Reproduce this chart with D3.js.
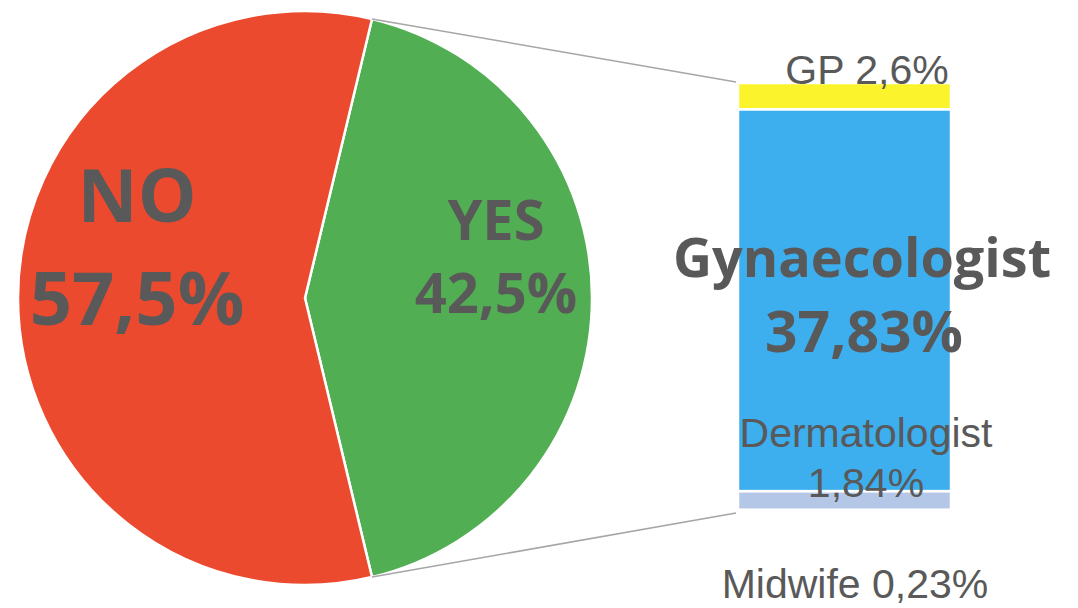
<!DOCTYPE html>
<meta charset="utf-8">
<script src="https://d3js.org/d3.v7.min.js"></script>
<style>
  body { margin: 0; background: #fff; }
</style>
<body>
<div id="chart"></div>
<script>
    // pie data
    var pieLabels = ["YES", "NO"];
    var pieValues = [42.5, 57.5];
    var pieColors = ["#52AE53", "#EC4A2F"];

    // breakdown of YES (bottom to top)
    var barLabels = ["Midwife", "Dermatologist", "Gynaecologist", "GP"];
    var barValues = [0.23, 1.84, 37.83, 2.6];
    var barColors = ["#DCE6F4", "#B4C7E7", "#3DAEEE", "#FBF32B"];

    var width = 1078, height = 608;
    var textColor = "#595959";

    var svg = d3.select("#chart")
        .append("svg")
        .attr("width", width)
        .attr("height", height);

    // pie
    var cx = 305, cy = 298, radius = 287;
    var yesShare = pieValues[0] / d3.sum(pieValues);
    var start = Math.PI / 2 - Math.PI * yesShare;

    var pie = d3.pie().sort(null).startAngle(start).endAngle(start + 2 * Math.PI);
    var arcs = pie(pieValues);
    var arc = d3.arc().innerRadius(0).outerRadius(radius);

    var g = svg.append("g").attr("transform", "translate(" + cx + "," + cy + ")");
    g.selectAll("path")
        .data(arcs)
        .enter()
        .append("path")
        .attr("d", arc)
        .style("fill", function(d, i) { return pieColors[i]; })
        .style("stroke", "#fff")
        .style("stroke-width", 2.5);

    // bar
    var total = d3.sum(barValues);
    var x0 = 738, x1 = 951;
    var y = d3.scaleLinear().domain([0, total]).range([512, 83]);
    var cum = 0;
    var segs = barValues.map(function(v, i) {
        var s = {lo: cum, hi: cum + v, i: i};
        cum += v;
        return s;
    });

    svg.selectAll("rect.seg")
        .data(segs)
        .enter()
        .append("rect")
        .attr("class", "seg")
        .attr("x", x0)
        .attr("width", x1 - x0)
        .attr("y", function(d) { return y(d.hi); })
        .attr("height", function(d) { return y(d.lo) - y(d.hi); })
        .style("fill", function(d) { return barColors[d.i]; })
        .style("stroke", "#fff")
        .style("stroke-width", 2.5);

    // connector lines
    var a0 = arcs[0].startAngle, a1 = arcs[0].endAngle;
    svg.append("line")
        .attr("x1", cx + radius * Math.sin(a0)).attr("y1", cy - radius * Math.cos(a0))
        .attr("x2", x0 - 2).attr("y2", y(total) - 1)
        .style("stroke", "#A6A6A6").style("stroke-width", 1.5);
    svg.append("line")
        .attr("x1", cx + radius * Math.sin(a1)).attr("y1", cy - radius * Math.cos(a1))
        .attr("x2", x0 - 2).attr("y2", y(0) + 1)
        .style("stroke", "#A6A6A6").style("stroke-width", 1.5);

    // labels
    var bold = "'Open Sans', sans-serif";
    var reg = "'Liberation Sans', Arial, sans-serif";
    var fmt = function(v, n) { return v.toFixed(n).replace(".", ",") + "%"; };

    function label(xc, yb, t, size, fam, weight) {
        svg.append("text").attr("x", xc).attr("y", yb).attr("text-anchor", "middle")
            .style("font-family", fam).style("font-weight", weight).style("font-size", size + "px")
            .style("fill", textColor).text(t);
    }

    label(137, 222, pieLabels[1], 74, bold, 700);
    label(137, 325, fmt(pieValues[1], 1), 74, bold, 700);
    label(496, 240, pieLabels[0], 56, bold, 700);
    label(496, 313, fmt(pieValues[0], 1), 56, bold, 700);
    label(862, 277, barLabels[2], 54, bold, 700);
    label(864, 352, fmt(barValues[2], 2), 57, bold, 700);

    label(867, 84, barLabels[3] + " " + fmt(barValues[3], 1), 41, reg, 400);
    label(866, 447, barLabels[1], 41, reg, 400);
    label(866, 497, fmt(barValues[1], 2), 41, reg, 400);
    label(855, 598, barLabels[0] + " " + fmt(barValues[0], 2), 41, reg, 400);
</script>
</body>
